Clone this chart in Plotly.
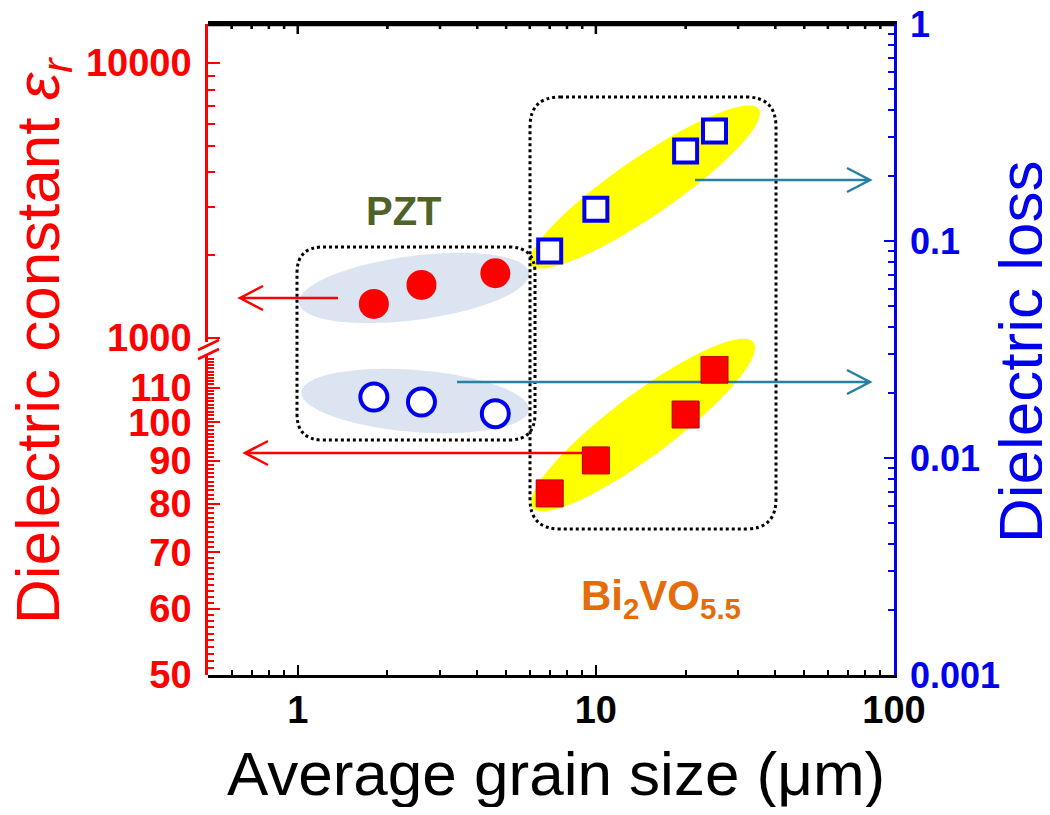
import math
import numpy as np
import plotly.graph_objects as go

# ---------------- data ----------------
pzt_size = [1.8, 2.6, 4.6]            # average grain size (um)
pzt_eps = [1330, 1560, 1720]          # dielectric constant (upper left axis)
pzt_loss = [0.0191, 0.0181, 0.0160]   # dielectric loss (right axis)

bvo_size = [7.0, 10.0, 20.0, 25.0]
bvo_eps = [82.3, 90.1, 102.2, 115.6]  # dielectric constant (lower left axis)
bvo_loss = [0.090, 0.140, 0.260, 0.321]

x_ticks = [1, 10, 100]
x_ticktext = ["1", "10", "100"]
loss_ticks = [0.001, 0.01, 0.1, 1]
loss_ticktext = ["0.001", "0.01", "0.1", "1"]
eps_low_ticks = [50, 60, 70, 80, 90, 100, 110]
eps_high_ticks = [1000, 10000]

FONT = "Liberation Sans, Arial, sans-serif"
RED = "#ff0000"
BLUE = "#0000ee"
TEAL = "#2a7fa5"

X_RANGE = [math.log10(0.5), 2]
LOSS_RANGE = [-3, 0]

# ---------------- geometry (page pixels; the page body has an 8px margin) ----------------
OFF = 8
FW, FH = 1050 - 2 * OFF, 815 - 2 * OFF
L, R, T, B = 208, 894, 24, 675


def px(x):
    return (x - L) / (R - L)


def py(y):
    return (B - y) / (B - T)


def xfrac(v):
    return (math.log10(v) - X_RANGE[0]) / (X_RANGE[1] - X_RANGE[0])


def path_from(points, close=True):
    s = "M " + " L ".join(f"{px(x):.5f},{py(y):.5f}" for x, y in points)
    return s + (" Z" if close else "")


def ellipse_path(cx, cy, a, b, ang, n=90):
    th = math.radians(ang)
    pts = []
    for t in np.linspace(0, 2 * math.pi, n, endpoint=False):
        x = cx + a * math.cos(t) * math.cos(th) - b * math.sin(t) * math.sin(th)
        y = cy + a * math.cos(t) * math.sin(th) + b * math.sin(t) * math.cos(th)
        pts.append((x, y))
    return path_from(pts)


def rrect_path(x0, y0, x1, y1, r):
    def P(x, y):
        return f"{px(x):.5f},{py(y):.5f}"
    return (f"M {P(x0 + r, y0)} L {P(x1 - r, y0)} Q {P(x1, y0)} {P(x1, y0 + r)} "
            f"L {P(x1, y1 - r)} Q {P(x1, y1)} {P(x1 - r, y1)} "
            f"L {P(x0 + r, y1)} Q {P(x0, y1)} {P(x0, y1 - r)} "
            f"L {P(x0, y0 + r)} Q {P(x0, y0)} {P(x0 + r, y0)} Z")


def arrow_path(x_start, x_tip, y, head=23, spread=12):
    d = 1 if x_start > x_tip else -1
    return (path_from([(x_start, y), (x_tip, y)], close=False) + " " +
            path_from([(x_tip + d * head, y - spread), (x_tip, y),
                       (x_tip + d * head, y + spread)], close=False))


def minor_log(lo_exp, hi_exp):
    vals = []
    for e in range(lo_exp, hi_exp + 1):
        for m in range(2, 10):
            vals.append(m * 10 ** e)
    return vals


x_minor = [v for v in minor_log(-1, 1) if 0.5 < v < 100]

shapes = []
# highlight ellipses
for cx, cy, a, b, ang, col in [
    (414, 288, 116, 32, -7.5, "#dbe4f0"),
    (415, 401, 114, 31, 4.5, "#dbe4f0"),
    (645, 187, 138, 29, -34.4, "#ffff00"),
    (643, 425, 138, 31, -36.8, "#ffff00"),
]:
    shapes.append(dict(type="path", xref="paper", yref="paper", layer="below",
                       path=ellipse_path(cx, cy, a, b, ang),
                       fillcolor=col, line=dict(width=0)))
# dotted rounded boxes
for x0, y0, x1, y1, r in [(297, 247, 535, 440, 26), (530, 97, 776, 529, 30)]:
    shapes.append(dict(type="path", xref="paper", yref="paper", layer="below",
                       path=rrect_path(x0, y0, x1, y1, r),
                       line=dict(color="black", width=3, dash="dot")))
# arrows
for xs, xt, y, col in [(338, 240, 298, RED), (582, 245, 453, RED),
                       (695, 870, 180, TEAL), (457, 870, 382, TEAL)]:
    shapes.append(dict(type="path", xref="paper", yref="paper", layer="below",
                       path=arrow_path(xs, xt, y), line=dict(color=col, width=2.5)))
# axis break marks
for yb in (345, 354):
    shapes.append(dict(type="line", xref="paper", yref="paper",
                       x0=px(198), y0=py(yb + 5), x1=px(219), y1=py(yb - 5),
                       line=dict(color=RED, width=2.5)))
# top frame line with inward ticks (paper shape, above everything)
top = "M 0,1 L 1,1"
for v in x_ticks + x_minor:
    ln = 10 if v in x_ticks else 5
    f = xfrac(v)
    if 0 < f < 1:
        top += f" M {f:.5f},1 L {f:.5f},{1 - ln / (B - T):.5f}"
shapes.append(dict(type="path", xref="paper", yref="paper", layer="above",
                   path=top, line=dict(color="black", width=2.5)))

fig = go.Figure()

# top frame also drawn as a line trace on the right-axis scale
px_per_dec = (B - T) / (LOSS_RANGE[1] - LOSS_RANGE[0])
y_top = 10 ** (LOSS_RANGE[1] - 1.0 / px_per_dec)
frame_x = [0.5, 100]
frame_y = [y_top, y_top]
fig.add_trace(go.Scatter(x=frame_x, y=frame_y, yaxis="y", mode="lines",
                         line=dict(color="black", width=2.5), hoverinfo="skip",
                         showlegend=False))

fig.add_trace(go.Scatter(x=pzt_size, y=pzt_loss, yaxis="y", mode="markers",
                         marker=dict(symbol="circle", size=27, color="white",
                                     line=dict(color=BLUE, width=4)),
                         showlegend=False))
fig.add_trace(go.Scatter(x=bvo_size, y=bvo_loss, yaxis="y", mode="markers",
                         marker=dict(symbol="square", size=23, color="white",
                                     line=dict(color=BLUE, width=4)),
                         showlegend=False))
fig.add_trace(go.Scatter(x=bvo_size, y=bvo_eps, yaxis="y2", mode="markers",
                         marker=dict(symbol="square", size=27, color=RED,
                                     line=dict(color="#b00000", width=1)),
                         showlegend=False))
fig.add_trace(go.Scatter(x=pzt_size, y=pzt_eps, yaxis="y3", mode="markers",
                         marker=dict(symbol="circle", size=30, color=RED,
                                     line=dict(width=0)),
                         showlegend=False))

fig.update_layout(
    width=FW, height=FH, autosize=False,
    margin=dict(l=L - OFF, r=FW + OFF - R, t=T - OFF, b=FH + OFF - B, pad=0,
                autoexpand=False),
    paper_bgcolor="white", plot_bgcolor="rgba(0,0,0,0)",
    font=dict(family=FONT),
    showlegend=False,
    xaxis=dict(type="log", range=X_RANGE, automargin=False, anchor="y",
               showgrid=False, zeroline=False, showline=True,
               linecolor="black", linewidth=2.5, mirror="ticks",
               ticks="inside", ticklen=10, tickwidth=2, tickcolor="black",
               tickvals=x_ticks, ticktext=x_ticktext,
               tickfont=dict(family=FONT, size=38, color="black", weight="bold"),
               ticklabelstandoff=0,
               minor=dict(tickvals=x_minor, ticks="inside", ticklen=5,
                          tickwidth=2, tickcolor="black")),
    yaxis=dict(type="log", range=LOSS_RANGE, domain=[0, 1], anchor="x", side="right",
               automargin=False, ticklabeloverflow="allow",
               showgrid=False, zeroline=False, showline=True,
               linecolor=BLUE, linewidth=2.5,
               ticks="inside", ticklen=10, tickwidth=2, tickcolor=BLUE,
               tickvals=loss_ticks, ticktext=loss_ticktext,
               tickfont=dict(family=FONT, size=36, color=BLUE, weight="bold"),
               ticklabelstandoff=6,
               minor=dict(tickvals=minor_log(-3, -1), ticks="inside", ticklen=6,
                          tickwidth=2, tickcolor=BLUE)),
    yaxis2=dict(type="log", range=[math.log10(50), math.log10(120)],
                domain=[0, 0.49], anchor="x", side="left", automargin=False,
                showgrid=False, zeroline=False, showline=True,
                linecolor=RED, linewidth=2.5,
                ticks="inside", ticklen=12, tickwidth=2, tickcolor=RED,
                tickvals=eps_low_ticks, ticktext=[str(v) for v in eps_low_ticks],
                tickfont=dict(family=FONT, size=38, color=RED, weight="bold"),
                ticklabelstandoff=6,
                minor=dict(tickvals=[v for v in range(51, 120) if v % 10],
                           ticks="inside", ticklen=6, tickwidth=1.5, tickcolor=RED)),
    yaxis3=dict(type="log", range=[2.9855, 4.1418],
                domain=[0.5115, 1], anchor="x", side="left", automargin=False,
                showgrid=False, zeroline=False, showline=True,
                linecolor=RED, linewidth=2.5,
                ticks="inside", ticklen=12, tickwidth=2, tickcolor=RED,
                tickvals=eps_high_ticks, ticktext=[str(v) for v in eps_high_ticks],
                tickfont=dict(family=FONT, size=38, color=RED, weight="bold"),
                ticklabelstandoff=6,
                minor=dict(tickvals=minor_log(3, 3), ticks="inside", ticklen=7,
                           tickwidth=2, tickcolor=RED)),
    shapes=shapes,
)

annotations = [
    dict(text="Average grain size (\u03bcm)", x=px(556), y=py(773),
         font=dict(family=FONT, size=62, color="black")),
    dict(text="Dielectric constant <i>\u03b5<sub>r</sub></i>", x=px(42), y=py(341),
         textangle=-90, font=dict(family=FONT, size=62, color=RED)),
    dict(text="Dielectric loss", x=px(1020), y=py(352),
         textangle=-90, font=dict(family=FONT, size=62, color=BLUE)),
    dict(text="PZT", x=px(404), y=py(211),
         font=dict(family=FONT, size=40, color="#4f6228", weight="bold")),
    dict(text="Bi<sub>2</sub>VO<sub>5.5</sub>", x=px(661), y=py(598),
         font=dict(family=FONT, size=42, color="#e46c0a", weight="bold")),
]
for a in annotations:
    a.update(xref="paper", yref="paper", showarrow=False,
             xanchor="center", yanchor="middle")
fig.update_layout(annotations=annotations)

fig.write_html("out.html")
